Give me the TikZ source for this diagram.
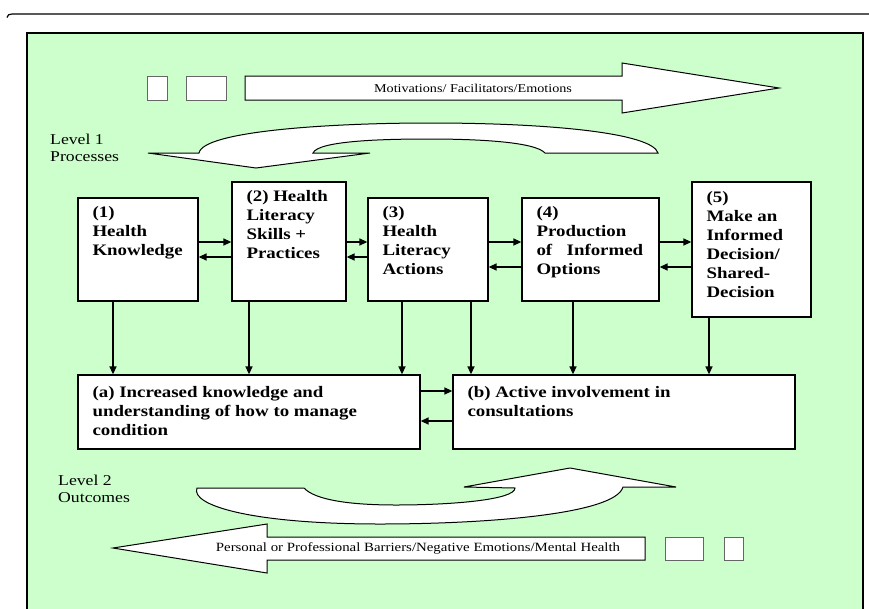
\documentclass[tikz,border=0pt]{standalone}
\usepackage{fontspec}
\setmainfont{Liberation Serif}[FakeStretch=1.18]
\usetikzlibrary{arrows.meta}
\definecolor{panelgreen}{RGB}{204,255,204}
\tikzset{
  box/.style={draw=black, line width=1.3pt, fill=white, inner sep=0pt},
  boxtext/.style={anchor=north west, inner sep=0pt, align=left,
    font=\fontsize{16}{19}\selectfont\bfseries},
  leveltext/.style={anchor=north west, inner sep=0pt, align=left,
    font=\fontsize{15}{17}\selectfont},
  arrowtext/.style={inner sep=0pt, font=\fontsize{12}{14}\selectfont},
  arr/.style={draw=black, line width=1.4pt, -{Triangle[length=8pt,width=7pt]}},
  bigarrow/.style={draw=black, line width=1pt, fill=white, line join=miter},
  smallbox/.style={draw=black!60, line width=1pt, fill=white},
}
\begin{document}
\begin{tikzpicture}[x=1pt,y=-1pt]
\useasboundingbox (0,0) rectangle (869,608);
\clip (0,0) rectangle (869,608);
\fill[white] (0,0) rectangle (869,608);

% page rule and green panel
\draw[line width=1.2pt] (7,17.5) .. controls (7.5,15) and (9,14) .. (12,14) -- (869,14);
\draw[line width=1.2pt, fill=panelgreen] (27,33) rectangle (863,620);

% top straight arrow with its two small boxes
\draw[smallbox] (147,76) rectangle (167,100);
\draw[smallbox] (186,76) rectangle (226,100);
\draw[bigarrow] (245,76) -- (622,76) -- (622,63) -- (779,88) -- (622,113) -- (622,100) -- (245,100) -- cycle;
\node[arrowtext] (topt) at (473,88) {Motivations/ Facilitators/Emotions};

% level 1 label and curved arrow
\node[leveltext] (lev1) at (50,134) {Level 1\\Processes};
\draw[bigarrow] (148,153) -- (256,168) -- (370,153) -- (313,153)
  .. controls (318,141) and (380,139) .. (428,139)
  .. controls (480,139) and (535,142) .. (545,153)
  -- (658,153)
  .. controls (652,133) and (550,123) .. (430,123)
  .. controls (330,123) and (203,131) .. (199,153)
  -- cycle;

% process boxes
\node[box, minimum width=120pt, minimum height=103pt] (b1) at (138,249.5) {};
\node[box, minimum width=114pt, minimum height=119pt] (b2) at (289,241.5) {};
\node[box, minimum width=120pt, minimum height=103pt] (b3) at (428,249.5) {};
\node[box, minimum width=137pt, minimum height=103pt] (b4) at (590.5,249.5) {};
\node[box, minimum width=119pt, minimum height=135pt] (b5) at (751.5,249.5) {};

\node[boxtext] (t1) at ([xshift=15pt,yshift=-9pt]b1.north west) {(1)\\Health\\Knowledge};
\node[boxtext] (t2) at ([xshift=15pt,yshift=-9pt]b2.north west) {(2) Health\\Literacy\\Skills +\\Practices};
\node[boxtext] (t3) at ([xshift=15pt,yshift=-9pt]b3.north west) {(3)\\Health\\Literacy\\Actions};
\node[boxtext] (t4) at ([xshift=15pt,yshift=-9pt]b4.north west) {(4)\\Production\\of\hspace{0.9em}Informed\\Options};
\node[boxtext] (t5) at ([xshift=15pt,yshift=-10pt]b5.north west) {(5)\\Make an\\Informed\\Decision/\\Shared-\\Decision};

% outcome boxes
\node[box, minimum width=342pt, minimum height=74pt] (ba) at (249,412) {};
\node[box, minimum width=342pt, minimum height=74pt] (bb) at (624,412) {};
\node[boxtext] (ta) at ([xshift=15pt,yshift=-12pt]ba.north west) {(a) Increased knowledge and\\understanding of how to manage\\condition};
\node[boxtext] (tb) at ([xshift=15pt,yshift=-12pt]bb.north west) {(b) Active involvement in\\consultations};

% two-way links between process boxes
\draw[arr] (b1.east |- 0,242) -- (b2.west |- 0,242);
\draw[arr] (b2.west |- 0,257) -- (b1.east |- 0,257);
\draw[arr] (b2.east |- 0,242) -- (b3.west |- 0,242);
\draw[arr] (b3.west |- 0,257) -- (b2.east |- 0,257);
\draw[arr] (b3.east |- 0,242) -- (b4.west |- 0,242);
\draw[arr] (b4.west |- 0,267) -- (b3.east |- 0,267);
\draw[arr] (b4.east |- 0,242) -- (b5.west |- 0,242);
\draw[arr] (b5.west |- 0,267) -- (b4.east |- 0,267);

% process boxes feeding the outcomes
\draw[arr] ([xshift=-25pt]b1.south) -- ([xshift=-25pt]b1.south |- ba.north);
\draw[arr] ([xshift=-40pt]b2.south) -- ([xshift=-40pt]b2.south |- ba.north);
\draw[arr] ([xshift=-26pt]b3.south) -- ([xshift=-26pt]b3.south |- ba.north);
\draw[arr] ([xshift=43pt]b3.south) -- ([xshift=43pt]b3.south |- bb.north);
\draw[arr] ([xshift=-17.5pt]b4.south) -- ([xshift=-17.5pt]b4.south |- bb.north);
\draw[arr] ([xshift=-42.5pt]b5.south) -- ([xshift=-42.5pt]b5.south |- bb.north);

% two-way link between outcomes
\draw[arr] (ba.east |- 0,391) -- (bb.west |- 0,391);
\draw[arr] (bb.west |- 0,421) -- (ba.east |- 0,421);

% level 2 label and curved arrow
\node[leveltext] (lev2) at (58,475) {Level 2\\Outcomes};
\draw[bigarrow] (197,488) -- (304,488)
  .. controls (315,500) and (350,505) .. (396,505)
  .. controls (450,505) and (515,500) .. (515,488)
  -- (464,487) -- (570,468) -- (676,487) -- (623,487)
  .. controls (615,515) and (480,524) .. (380,524)
  .. controls (250,524) and (190,505) .. (197,488)
  -- cycle;

% bottom straight arrow with its two small boxes
\draw[bigarrow] (113,548) -- (267,524) -- (267,537) -- (645,537) -- (645,560) -- (267,560) -- (267,573) -- cycle;
\node[arrowtext, font=\fontsize{12.6}{14}\selectfont] (bott) at (418,548) {Personal or Professional Barriers/Negative Emotions/Mental Health};
\draw[smallbox] (665,537) rectangle (703,560);
\draw[smallbox] (724,537) rectangle (743,560);
\end{tikzpicture}
\end{document}
